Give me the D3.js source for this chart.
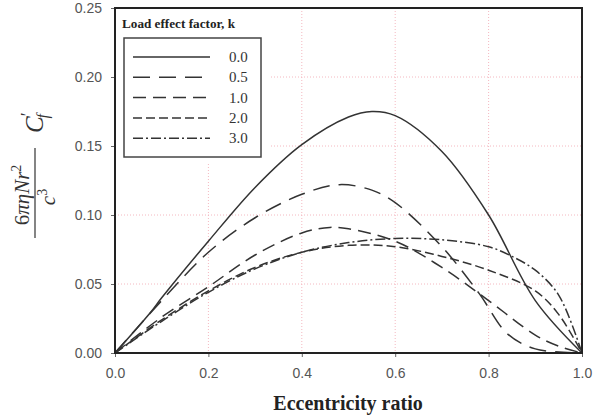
<!DOCTYPE html>
<html>
<head>
<meta charset="utf-8">
<script src="https://cdn.jsdelivr.net/npm/d3@7"></script>
<style>
  body { margin: 0; background: #fff; }
  .tick text { font-family: Arial, "Liberation Sans", sans-serif; font-size: 14px; fill: #555; }
  .grid line { stroke: #f4b8c0; stroke-dasharray: 1,2; }
</style>
</head>
<body>
<svg id="chart" width="598" height="416"></svg>
<script>
// values
const kLabels = ["0.0", "0.5", "1.0", "2.0", "3.0"];
const xTicks = [0, 0.2, 0.4, 0.6, 0.8, 1.0];
const yTicks = [0, 0.05, 0.10, 0.15, 0.20, 0.25];

const k00 = [[0,0],[0.075,0.029],[0.1,0.040],[0.2,0.081],[0.3,0.120],[0.4,0.151],[0.5,0.171],[0.55,0.175],[0.6,0.172],[0.7,0.146],[0.8,0.100],[0.9,0.038],[1.0,0]];
const k05 = [[0,0],[0.1,0.038],[0.2,0.073],[0.3,0.098],[0.4,0.115],[0.48,0.122],[0.55,0.118],[0.6,0.109],[0.7,0.077],[0.78,0.043],[0.84,0.014],[0.9,0.003],[1.0,0]];
const k10 = [[0,0],[0.1,0.026],[0.2,0.048],[0.3,0.071],[0.4,0.087],[0.46,0.091],[0.5,0.090],[0.6,0.081],[0.7,0.062],[0.8,0.038],[0.9,0.013],[0.95,0.005],[1.0,0]];
const k20 = [[0,0],[0.1,0.024],[0.2,0.045],[0.3,0.062],[0.4,0.073],[0.5,0.078],[0.6,0.077],[0.7,0.070],[0.8,0.060],[0.9,0.045],[0.95,0.028],[1.0,0]];
const k30 = [[0,0],[0.1,0.023],[0.2,0.044],[0.3,0.061],[0.4,0.073],[0.5,0.080],[0.6,0.083],[0.7,0.082],[0.8,0.077],[0.85,0.070],[0.9,0.060],[0.95,0.042],[1.0,0]];

const seriesList = [k00, k05, k10, k20, k30];
const dashes = [null, "17,9", "13,7", "9,4", "10,3,2,3"];

const svg = d3.select("#chart");
const plotLeft = 115, plotRight = 582, plotTop = 8, plotBottom = 353;

const x = d3.scaleLinear().domain([0, 1]).range([plotLeft, plotRight]);
const y = d3.scaleLinear().domain([0, 0.25]).range([plotBottom, plotTop]);

svg.append("clipPath").attr("id", "plotclip").append("rect")
  .attr("x", plotLeft).attr("y", plotTop).attr("width", plotRight - plotLeft).attr("height", plotBottom - plotTop);

// grid
svg.append("g").attr("class", "grid")
  .selectAll("line").data(xTicks.slice(1, -1)).join("line")
  .attr("x1", d => x(d)).attr("x2", d => x(d)).attr("y1", plotTop).attr("y2", plotBottom);
svg.append("g").attr("class", "grid")
  .selectAll("line").data(yTicks.slice(1, -1)).join("line")
  .attr("y1", d => y(d)).attr("y2", d => y(d)).attr("x1", plotLeft).attr("x2", plotRight);

// curves
const line = d3.line().x(d => x(d[0])).y(d => y(d[1])).curve(d3.curveCatmullRom.alpha(0.5));
svg.append("g").attr("clip-path", "url(#plotclip)")
  .selectAll("path").data(seriesList).join("path")
  .attr("d", line)
  .attr("fill", "none")
  .attr("stroke", "#333")
  .attr("stroke-width", 1.5)
  .attr("stroke-dasharray", (d, i) => dashes[i]);

// axes
const xAxis = svg.append("g").attr("transform", `translate(0,${plotBottom})`)
  .call(d3.axisBottom(x).tickValues(xTicks).tickFormat(d3.format(".1f")).tickSize(4).tickPadding(11));
const yAxis = svg.append("g").attr("transform", `translate(${plotLeft},0)`)
  .call(d3.axisLeft(y).tickValues(yTicks).tickFormat(d3.format(".2f")).tickSize(4).tickPadding(9));
[xAxis, yAxis].forEach(a => {
  a.select(".domain").remove();
  a.selectAll(".tick line").attr("stroke", "#666");
});

// legend
const lg = svg.append("g");
lg.append("rect").attr("x", plotLeft).attr("y", plotTop).attr("width", 154).attr("height", 155).attr("fill", "#fff");
lg.append("text").attr("x", 122).attr("y", 28)
  .attr("font-family", "'Liberation Serif', 'Times New Roman', serif")
  .attr("font-weight", "bold").attr("font-size", 13.2).attr("fill", "#222")
  .text("Load effect factor, k");
lg.append("rect").attr("x", 124).attr("y", 38).attr("width", 137).attr("height", 119)
  .attr("fill", "#fff").attr("stroke", "#444").attr("stroke-width", 1.5);
const items = lg.selectAll("g.item").data(kLabels).join("g")
  .attr("class", "item")
  .attr("transform", (d, i) => `translate(0,${57 + i * 20.3})`);
items.append("line").attr("x1", 133).attr("x2", 210)
  .attr("stroke", "#333").attr("stroke-width", 1.5)
  .attr("stroke-dasharray", (d, i) => dashes[i]);
items.append("text").attr("x", 229).attr("y", 5)
  .attr("font-family", "'Liberation Serif', 'Times New Roman', serif")
  .attr("font-size", 15).attr("fill", "#333")
  .text(d => d);

// frame
svg.append("rect").attr("x", plotLeft).attr("y", plotTop)
  .attr("width", plotRight - plotLeft).attr("height", plotBottom - plotTop)
  .attr("fill", "none").attr("stroke", "#222").attr("stroke-width", 2);

// axis titles
svg.append("text").attr("x", 348).attr("y", 410).attr("text-anchor", "middle")
  .attr("font-family", "'Liberation Serif', 'Times New Roman', serif")
  .attr("font-weight", "bold").attr("font-size", 20).attr("fill", "#222")
  .text("Eccentricity ratio");

const yl = svg.append("g").attr("transform", "translate(35,193) rotate(-90)")
  .attr("font-family", "'Liberation Serif', 'Times New Roman', serif")
  .attr("font-style", "italic").attr("fill", "#333");
yl.append("line").attr("x1", -45).attr("x2", 45).attr("y1", 0).attr("y2", 0)
  .attr("stroke", "#333").attr("stroke-width", 1.2);
const num = yl.append("text").attr("x", -2).attr("y", -6).attr("text-anchor", "middle").attr("font-size", 21);
num.append("tspan").attr("font-style", "normal").text("6");
num.append("tspan").text("πηNr");
num.append("tspan").attr("dy", -8).attr("font-size", 14).attr("font-style", "normal").text("2");
const den = yl.append("text").attr("x", -4).attr("y", 20).attr("text-anchor", "middle").attr("font-size", 21);
den.append("tspan").text("c");
den.append("tspan").attr("dy", -8).attr("font-size", 14).attr("font-style", "normal").text("3");
const cf = yl.append("text").attr("x", 60).attr("y", 8).attr("font-size", 25);
cf.append("tspan").text("C");
cf.append("tspan").attr("dy", -9).attr("font-size", 18).attr("font-style", "normal").text("′");
cf.append("tspan").attr("dx", -6).attr("dy", 14).attr("font-size", 16).text("f");
</script>
</body>
</html>
